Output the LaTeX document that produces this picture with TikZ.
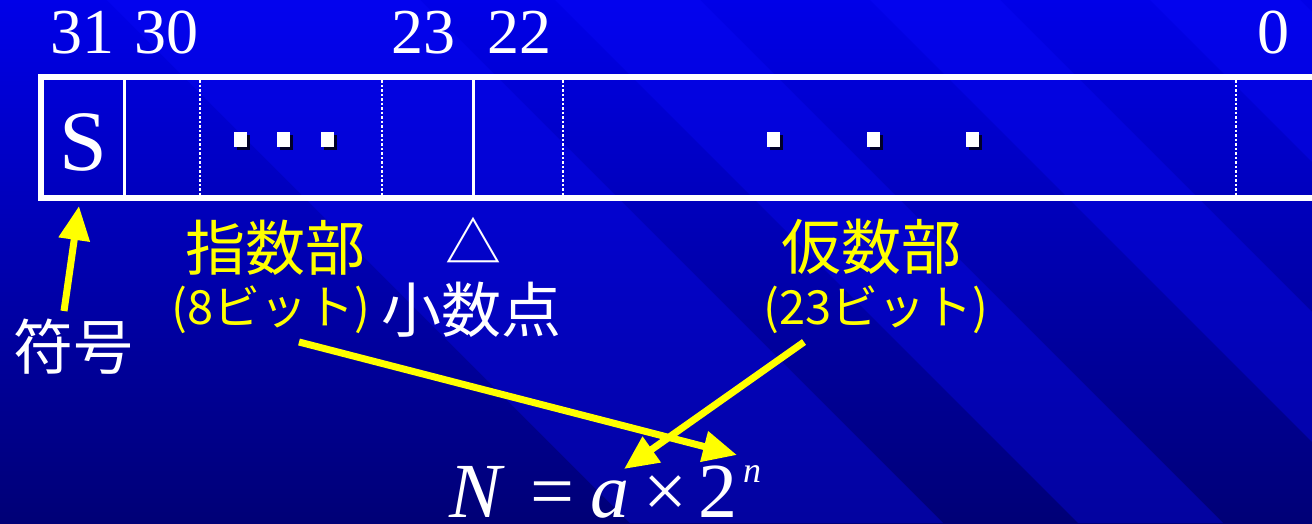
\documentclass[tikz,border=0pt]{standalone}
\usepackage{fontspec}
\setmainfont{Liberation Serif}
\newfontfamily\tnr{Liberation Serif}
\newfontfamily\jp{Noto Sans CJK JP}
\usetikzlibrary{arrows.meta}
\definecolor{bgtop}{RGB}{0,0,232}
\definecolor{bgbot}{RGB}{0,0,118}
\definecolor{band}{RGB}{10,10,255}
\definecolor{ylw}{RGB}{255,255,0}
\definecolor{shd}{RGB}{0,0,40}
\begin{document}
\begin{tikzpicture}[x=1pt,y=-1pt,
  num/.style={text=white,font=\tnr\fontsize{64}{64}\selectfont,anchor=base,inner sep=0},
  fml/.style={text=white,font=\tnr\fontsize{78}{78}\selectfont,anchor=base,inner sep=0},
  jpy/.style={text=ylw,font=\jp\fontsize{60}{60}\selectfont,inner sep=0},
  jpw/.style={text=white,font=\jp\fontsize{60}{60}\selectfont,inner sep=0},
  jpsmall/.style={text=ylw,font=\jp\fontsize{47}{47}\selectfont,inner sep=0},
  frame/.style={draw=white,line width=5.5},
  solidsep/.style={draw=white,line width=3},
  dotsep/.style={draw=white,line width=2,dash pattern=on 2.5 off 2},
  yarr/.style={draw=ylw,fill=ylw,line width=7,-{Triangle[length=34pt,width=30pt]}}
]
\useasboundingbox (0,0) rectangle (1312,523);
% background
\begin{scope}
\clip (0,0) rectangle (1312,523);
\shade[top color=bgtop,bottom color=bgbot] (0,0) rectangle (1312,523);
\foreach \a/\b in {107/420,555/700,870/1000,1150/1300}
  \fill[band,opacity=.3] (\a,0) -- (\b,0) -- (\b+523,523) -- (\a+523,523) -- cycle;
\end{scope}
% frame
\draw[frame] (1330,77) -- (41,77) -- (41,198) -- (1330,198);
\draw[solidsep] (124.5,77) -- (124.5,198);
\draw[solidsep] (473,77) -- (473,198);
\foreach \x in {200,382,563,1236}
  \draw[dotsep] (\x,80) -- (\x,195);
% dots
\foreach \x in {240.5,283,327,773.5,873.5,972.5}{
  \fill[shd] (\x-3.5,135) rectangle ++(13,15);
  \fill[white] (\x-6.5,132) rectangle ++(13,15);
}
% S
\node[text=white,font=\tnr\fontsize{86}{86}\selectfont,anchor=base,inner sep=0] (S) at (83,170) {S};
% bit numbers
\node[num] (b31) at (82,53) {31};
\node[num] (b30) at (166,53) {30};
\node[num] (b23) at (423,53) {23};
\node[num] (b22) at (519,53) {22};
\node[num] (b0) at (1273,53) {0};
% labels
\node[jpy] (exp) at (275.5,247.5) {指数部};
\node[jpsmall] (expb) at (271,310) {(8ビット)};
\node[jpw] (pt) at (471,310) {小数点};
\node[jpw,font=\jp\fontsize{56}{56}\selectfont] (tri) at (473,240) {△};
\node[jpy] (man) at (871,247) {仮数部};
\node[jpsmall] (manb) at (876,310) {(23ビット)};
\node[jpw] (sign) at (73,347) {符号};
% formula
\node[fml] (fN) at (476,517) {\itshape N};
\node[fml] (feq) at (552,517) {=};
\node[fml] (fa) at (610,517) {\itshape a};
\node[fml] (ftimes) at (665,517) {×};
\node[fml] (ftwo) at (718,517) {2};
\node[text=white,font=\tnr\fontsize{36}{36}\selectfont\itshape,anchor=base,inner sep=0] (fn) at (752,482) {n};
% arrows
\coordinate (t1) at (64,311);
\coordinate (h1) at (79,206);
\coordinate (t2) at (299,342);
\coordinate (h2) at (737,455);
\coordinate (t3) at (804,342);
\coordinate (h3) at (624,469);
\draw[yarr] (t1) -- (h1);
\draw[yarr] (t2) -- (h2);
\draw[yarr] (t3) -- (h3);
\end{tikzpicture}
\end{document}
